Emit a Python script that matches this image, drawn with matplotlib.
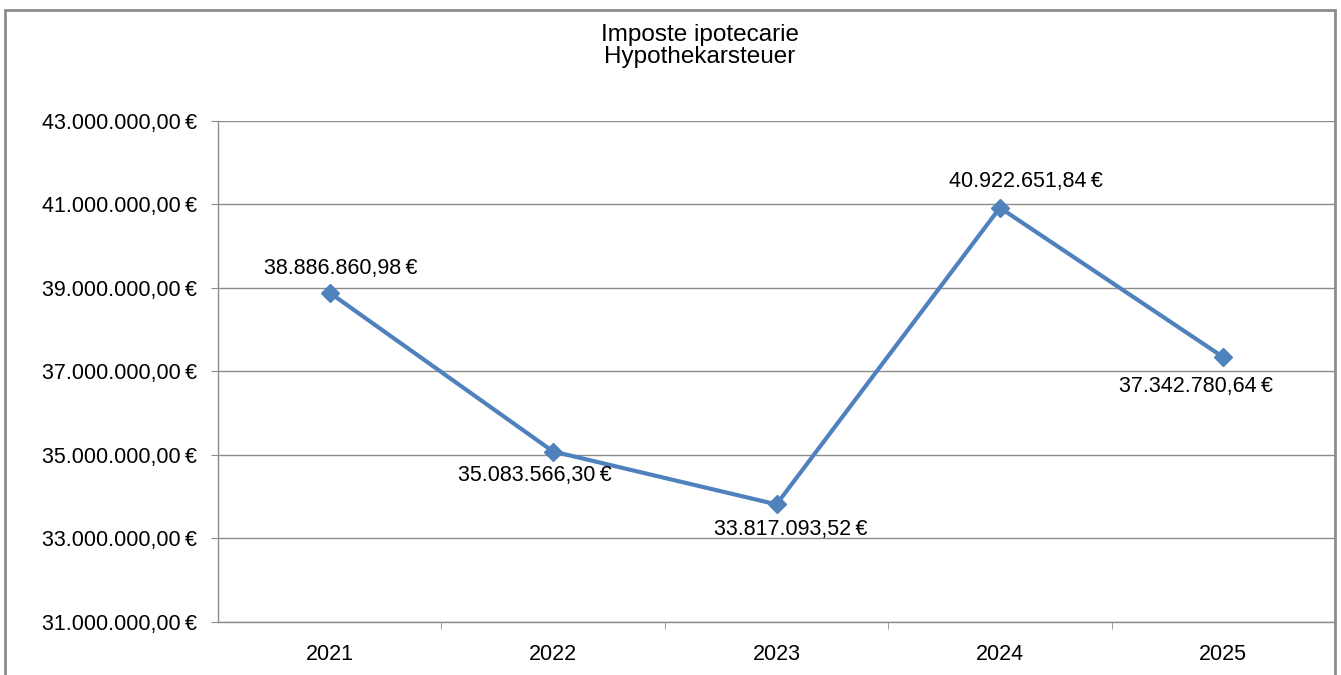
import matplotlib.pyplot as plt
from matplotlib.patches import Rectangle

# Dati
anni = ["2021", "2022", "2023", "2024", "2025"]
valori = [38886860.98, 35083566.30, 33817093.52, 40922651.84, 37342780.64]
y_ticks = [31000000, 33000000, 35000000, 37000000, 39000000, 41000000, 43000000]

# spostamento delle etichette rispetto al punto (in pixel: dx, dy verso l'alto)
spostamenti = [(11, 24), (-18, -24), (14, -25), (26, 26), (-27, -29)]


def formato_euro(v):
    s = f"{v:,.2f}"
    s = s.replace(",", "X").replace(".", ",").replace("X", ".")
    return s + "\u2009€"


plt.rcParams['font.family'] = ['Liberation Sans', 'DejaVu Sans']

fig = plt.figure(figsize=(13.41, 6.75), dpi=100)
W, H = 1341, 675
ax = fig.add_axes([218 / W, 1 - 622 / H, (1335 - 218) / W, (622 - 121) / H])

x = list(range(len(anni)))
ax.plot(x, valori, color='#4F81BD', linewidth=3, marker='D', markersize=9.5,
        markerfacecolor='#4F81BD', markeredgecolor='#4F81BD', zorder=3)

# etichette dei valori
px2pt = 72 / 100
for xi, v, (dx, dy) in zip(x, valori, spostamenti):
    ax.annotate(formato_euro(v), (xi, v), xytext=(dx * px2pt, dy * px2pt), textcoords='offset points',
                ha='center', va='center', fontsize=15.5, color='black')

ax.set_xlim(-0.5, len(anni) - 0.5)
ax.set_ylim(31000000, 43000000)
ax.set_yticks(y_ticks)
ax.set_yticklabels([formato_euro(t) for t in y_ticks], fontsize=15.5)
ax.set_xticks(x)
ax.set_xticklabels(anni, fontsize=15.5)
ax.tick_params(axis='x', length=0, pad=16)
ax.tick_params(axis='y', length=5, color='#8C8C8C', pad=10)

# tacche tra le categorie
ax.set_xticks([i + 0.5 for i in range(len(anni) - 1)], minor=True)
ax.tick_params(axis='x', which='minor', length=5, color='#8C8C8C', direction='out')

ax.grid(axis='y', color='#8C8C8C', linewidth=1)
ax.set_axisbelow(True)
for lato in ['top', 'right']:
    ax.spines[lato].set_visible(False)
for lato in ['left', 'bottom']:
    ax.spines[lato].set_color('#8C8C8C')
    ax.spines[lato].set_linewidth(1)

# titolo
fig.text(700 / W, 1 - 46 / H, "Imposte ipotecarie\nHypothekarsteuer", ha='center', va='center',
         fontsize=17.5, linespacing=0.95)

# cornice esterna
fig.patches.append(Rectangle((5 / W, -0.1), (1335 - 5) / W, 1.1 - 10 / H, transform=fig.transFigure,
                             fill=False, edgecolor='#8C8C8C', linewidth=2))

fig.savefig("out.png", dpi=100)
